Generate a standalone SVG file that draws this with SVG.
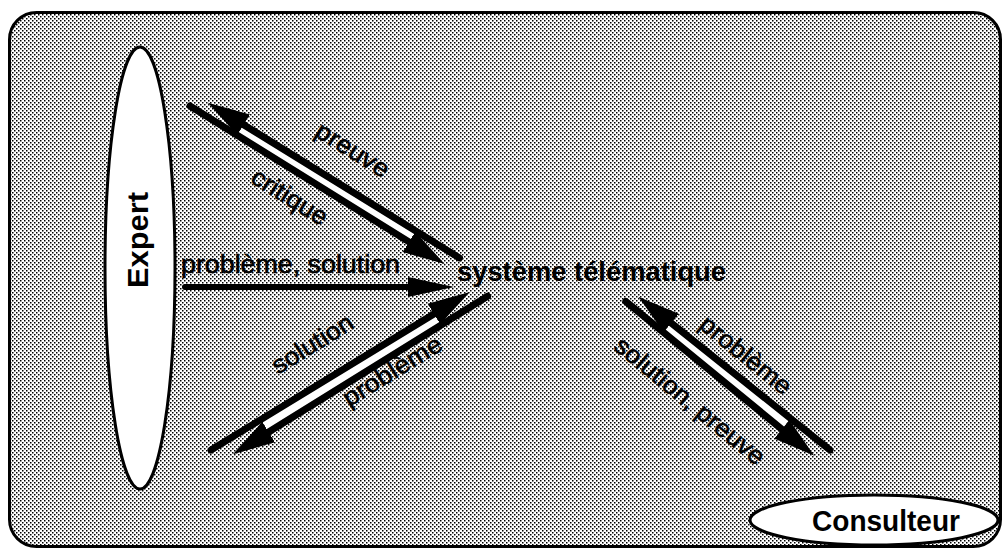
<svg xmlns="http://www.w3.org/2000/svg" width="1006" height="551" viewBox="0 0 1006 551">
<defs>
<pattern id="ht" width="4" height="4" patternUnits="userSpaceOnUse">
<rect width="4" height="4" fill="#ffffff"/>
<rect x="0" y="0" width="1.5" height="1.5" fill="#000"/>
<rect x="2" y="2" width="1.5" height="1.5" fill="#000"/>
</pattern>
<marker id="head" markerUnits="userSpaceOnUse" markerWidth="44" markerHeight="28" refX="0" refY="12" orient="auto" viewBox="0 0 44 24">
<path d="M0,0 L42,12 L0,24 z" fill="#000"/>
</marker>
<marker id="headH" markerUnits="userSpaceOnUse" markerWidth="50" markerHeight="22" refX="0" refY="10" orient="auto" viewBox="0 0 50 20">
<path d="M0,0 L46,10 L0,20 z" fill="#000"/>
</marker>
<style>
.shaft{stroke:#000;stroke-width:7;stroke-linecap:round;fill:none;marker-end:url(#head)}
.hshaft{stroke:#000;stroke-width:6;stroke-linecap:round;fill:none;marker-end:url(#headH)}
.gap{fill:#fff;stroke:none}
.lbl{font-family:"Liberation Sans",Arial,Helvetica,sans-serif;font-size:25px;fill:#000;stroke:#000;stroke-width:0.6;text-anchor:middle}
.bold{font-family:"Liberation Sans",Arial,Helvetica,sans-serif;font-weight:bold;fill:#000}
.node{fill:#fff;stroke:#000;stroke-width:3}
</style>
</defs>
<rect x="0" y="0" width="1006" height="551" fill="#fff"/>
<rect id="frame" x="9.5" y="12.5" width="991" height="534" rx="27" ry="27" fill="url(#ht)" stroke="#000" stroke-width="3"/>

<g id="expert">
<ellipse class="node" cx="140" cy="268" rx="35" ry="221"/>
<text class="bold" font-size="29" text-anchor="middle" textLength="96" lengthAdjust="spacingAndGlyphs" transform="translate(148,240) rotate(-90)">Expert</text>
</g>

<g id="systeme">
<text class="bold" font-size="28" x="457" y="281" textLength="269" lengthAdjust="spacingAndGlyphs">système télématique</text>
</g>

<g id="consulteur">
<ellipse class="node" cx="874" cy="520" rx="124" ry="25"/>
<text class="bold" font-size="29" x="886" y="531" text-anchor="middle" textLength="148" lengthAdjust="spacingAndGlyphs">Consulteur</text>
</g>

<g id="connectors">
<polygon class="gap" points="243.6,124.8 237.1,135.2 409,241.9 415.8,230.9"/>
<polygon class="gap" points="268.65,432.06 260.95,419.5 433.9,313.9 440.85,325.16"/>
<polygon class="gap" points="671.2,323 663.5,332.3 781.8,429.2 790.5,418.4"/>
<line class="shaft" x1="190" y1="106" x2="409" y2="241.9"/>
<line class="shaft" x1="459.5" y1="257.9" x2="243.6" y2="124.8"/>
<line class="hshaft" x1="185" y1="287" x2="408" y2="287"/>
<line class="shaft" x1="211" y1="450" x2="433.9" y2="313.9"/>
<line class="shaft" x1="487.6" y1="296.2" x2="268.65" y2="432.06"/>
<line class="shaft" x1="830" y1="450" x2="671.2" y2="323"/>
<line class="shaft" x1="625.8" y1="301.5" x2="781.8" y2="429.2"/>
<text class="lbl" textLength="82" lengthAdjust="spacingAndGlyphs" transform="translate(352,151) rotate(31.8)" y="7">preuve</text>
<text class="lbl" textLength="85" lengthAdjust="spacingAndGlyphs" transform="translate(289,198) rotate(31.8)" y="7">critique</text>
<text class="lbl" x="181" y="273" style="text-anchor:start" textLength="219" lengthAdjust="spacingAndGlyphs">problème, solution</text>
<text class="lbl" textLength="91" lengthAdjust="spacingAndGlyphs" transform="translate(313,345) rotate(-31.5)" y="7">solution</text>
<text class="lbl" textLength="112" lengthAdjust="spacingAndGlyphs" transform="translate(393,372) rotate(-31.5)" y="7">problème</text>
<text class="lbl" textLength="110" lengthAdjust="spacingAndGlyphs" transform="translate(745,356) rotate(38.7)" y="7">problème</text>
<text class="lbl" textLength="186" lengthAdjust="spacingAndGlyphs" transform="translate(689,402) rotate(39.3)" y="7">solution, preuve</text>
</g>
</svg>
